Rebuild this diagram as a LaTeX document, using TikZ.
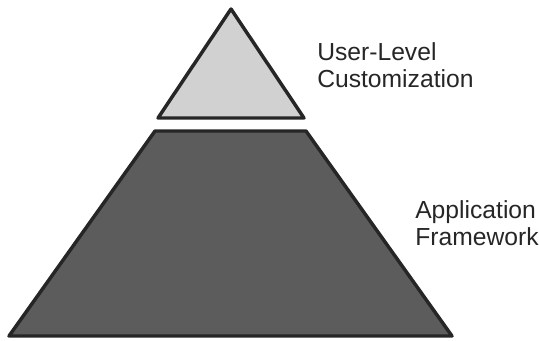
\documentclass[tikz,border=0pt]{standalone}
\usepackage{fontspec}
\setmainfont{Liberation Sans}
\begin{document}
\begin{tikzpicture}[x=.75pt,y=-.75pt,line join=round,
	layer/.style={draw=black!85,line width=2.6pt},
	caption/.style={align=left,inner sep=0pt,anchor=base west,font=\fontsize{18.5}{20}\selectfont,text=black!85}]
	\useasboundingbox(0,0)rectangle(539,340);
	% upper block
	\draw[layer,fill=black!18](231,9)--(304,118)--(158,118)--cycle;
	% lower block
	\draw[layer,fill=black!64](155,131)--(306,131)--(452,336)--(9,336)--cycle;
	\node[caption](user)at(317,87){User-Level\\Customization};
	\node[caption](frame)at(415,245){Application\\Framework};
\end{tikzpicture}
\end{document}
